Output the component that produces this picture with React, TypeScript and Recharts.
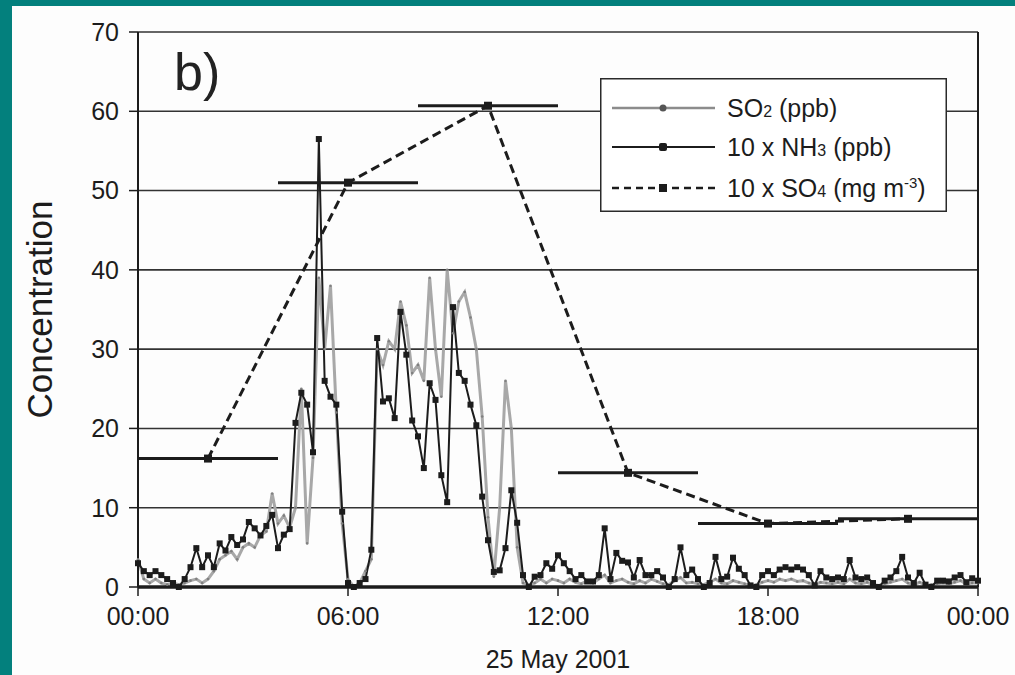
import React from "react";
import {
  ComposedChart,
  Line,
  Scatter,
  ErrorBar,
  XAxis,
  YAxis,
  CartesianGrid,
  ReferenceLine,
  Legend,
} from "recharts";

const FONT = 'Arial, "Liberation Sans", Helvetica, sans-serif';
const INK = "#1c1c1c";

// 10-minute readings, one row per hour (00:00 .. 24:00)
const SO2_PPB = [
  3.5, 1, 0.5, 1, 0.5, 0.3,
  0.5, 0.3, 0.5, 0.8, 1, 0.5,
  1, 2, 3.5, 4, 4.5, 3.5,
  5, 5.5, 5, 6.5, 7, 11.8,
  8, 9, 7.5, 10, 25, 5.5,
  16.3, 39, 30, 38, 22, 8,
  1, 0, 0.5, 2, 3.5, 30,
  28, 31, 30, 36, 33, 27,
  28, 26, 39, 30, 24, 40,
  32, 36, 37.2, 34, 30, 21.5,
  8.8, 1.3, 10, 26, 20, 5,
  0.5, 0.3, 0.5, 1, 0.5, 1,
  0.8, 0.5, 1, 0.6, 0.4, 0.8,
  0.5, 1, 1.5, 0.5, 0.8, 1,
  0.6, 0.4, 0.8, 0.5, 1, 0.7,
  0.4, 0.3, 0.8, 1.2, 0.5, 0.6,
  0.4, 0.3, 0.6, 1, 0.5, 0.4,
  0.8, 0.6, 0.4, 0.2, 0.3, 0.6,
  0.8, 0.6, 1, 0.8, 1, 0.7,
  0.8, 0.5, 0.3, 0.6, 0.5, 0.4,
  0.6, 0.4, 1, 0.5, 0.4, 0.6,
  0.3, 0.2, 0.4, 0.6, 0.8, 1,
  0.5, 0.3, 0.6, 0.2, 0.3, 0.4,
  0.5, 0.4, 0.6, 0.8, 0.4, 0.5,
  0.5,
];

const NH3_X10 = [
  3, 2, 1.5, 2, 1.5, 1,
  0.5, 0, 1, 2.5, 4.9, 2.5,
  4, 2.5, 5.5, 4.6, 6.3, 5.3,
  6, 8.2, 7.4, 6.5, 7.7, 9.1,
  4.9, 6.6, 7.3, 20.7, 24.5, 23,
  17, 56.5, 26, 24, 23, 9.5,
  0.5, 0, 0.5, 1, 4.7, 31.4,
  23.4, 23.8, 21.3, 34.7, 29.3, 21,
  19, 15, 25.7, 23.6, 14.1, 10.7,
  35.3, 27, 26, 23, 20.4, 11.4,
  5.9, 1.9, 2.1, 4.9, 12.2, 8.1,
  1.5, 0, 1.3, 1.5, 3, 2.3,
  4, 3, 2, 1, 1.5, 0.7,
  0.7, 1.5, 7.4, 1, 4.3, 3.3,
  3.1, 1.2, 3.4, 1.5, 1.5, 2,
  1.2, 0, 1, 5, 1.5, 2.2,
  1, 0, 0.5, 3.8, 1, 1.3,
  3.7, 2.3, 1.5, 0.2, 0, 1.5,
  2, 1.5, 2.2, 2.5, 2.2, 2.5,
  2.2, 1.5, 0.2, 2, 1.2, 1,
  1.2, 1, 3.4, 1.2, 1, 1.2,
  0.5, 0, 0.8, 1.2, 2, 3.8,
  1.2, 0.5, 1.8, 0.3, 0, 0.8,
  0.8, 0.7, 1.2, 1.5, 0.6, 1.1,
  0.8,
];

// sulphate filter samples: centre time, value, half of the sampling window (h)
const SO4_HOURS = [2, 6, 10, 14, 18, 22];
const SO4_X10 = [16.2, 51, 60.7, 14.4, 8.0, 8.6];
const SO4_HALF_WINDOW = [2, 2, 2, 2, 2, 2];

const X_TICKS = [0, 6, 12, 18, 24];
const Y_TICKS = [0, 10, 20, 30, 40, 50, 60, 70];

const series = SO2_PPB.map((so2, i) => ({ t: i / 6, so2, nh3: NH3_X10[i] }));
const so4 = SO4_HOURS.map((t, i) => ({ t, v: SO4_X10[i], err: SO4_HALF_WINDOW[i] }));

const hourLabel = (h: number) => `${String(h % 24).padStart(2, "0")}:00`;

const NhDot = (p: any) =>
  p.cx == null ? null : (
    <rect key={`n${p.index}`} x={p.cx - 3} y={p.cy - 3} width={6} height={6} fill={INK} />
  );

const SoDot = (p: any) =>
  p.cx == null ? null : <circle key={`s${p.index}`} cx={p.cx} cy={p.cy} r={1.3} fill="#808080" />;

const So4Mark = (p: any) => (
  <rect x={p.cx - 4} y={p.cy - 4} width={8} height={8} fill={INK} />
);

const YLabel = ({ viewBox }: any) => (
  <text
    x={viewBox.x + 27}
    y={viewBox.y + viewBox.height / 2}
    transform={`rotate(-90 ${viewBox.x + 27} ${viewBox.y + viewBox.height / 2})`}
    textAnchor="middle"
    dominantBaseline="central"
    fontSize={35}
    fontFamily={FONT}
    fill={INK}
  >
    Concentration
  </text>
);

const XLabel = ({ viewBox }: any) => (
  <text
    x={viewBox.x + viewBox.width / 2}
    y={viewBox.y + 72}
    textAnchor="middle"
    dominantBaseline="central"
    fontSize={25}
    fontFamily={FONT}
    fill={INK}
  >
    25 May 2001
  </text>
);

function LegendBox() {
  const rows = [30, 69, 110];
  const txt = { fontSize: 25, fontFamily: FONT, fill: INK };
  return (
    <svg width={347} height={134}>
      <rect x={0.75} y={0.75} width={345.5} height={132.5} fill="#fff" stroke="#2a2a2a" strokeWidth={1.5} />
      <line x1={12} x2={115} y1={rows[0]} y2={rows[0]} stroke="#8c8c8c" strokeWidth={2.5} />
      <circle cx={63} cy={rows[0]} r={3.5} fill="#555" />
      <line x1={12} x2={115} y1={rows[1]} y2={rows[1]} stroke={INK} strokeWidth={2} />
      <rect x={59} y={rows[1] - 4} width={8} height={8} rx={2} fill={INK} />
      <line x1={12} x2={115} y1={rows[2]} y2={rows[2]} stroke={INK} strokeWidth={2.5} strokeDasharray="7 5" />
      <rect x={59} y={rows[2] - 4} width={8} height={8} fill={INK} />
      <text x={127} y={rows[0]} dy="0.35em" {...txt}>
        SO<tspan fontSize={16}>2</tspan> (ppb)
      </text>
      <text x={127} y={rows[1]} dy="0.35em" {...txt}>
        10 x NH<tspan fontSize={16}>3</tspan> (ppb)
      </text>
      <text x={127} y={rows[2]} dy="0.35em" {...txt}>
        10 x SO<tspan fontSize={16}>4</tspan> (mg m
        <tspan fontSize={15} dy={-9}>-3</tspan>
        <tspan dy={9}>)</tspan>
      </text>
    </svg>
  );
}

export default function App() {
  return (
    <div style={{ position: "absolute", left: 0, top: 0, width: 1015, height: 675, background: "#03807d" }}>
      <div style={{ position: "absolute", left: 12, top: 6, width: 1003, height: 669, background: "#fdfdfd" }}>
        <ComposedChart
          width={1003}
          height={669}
          data={series}
          margin={{ top: 26, right: 37, bottom: 0, left: 0 }}
        >
          <CartesianGrid vertical={false} stroke="#333" strokeWidth={1.6} />
          <XAxis
            type="number"
            dataKey="t"
            domain={[0, 24]}
            ticks={X_TICKS}
            tickFormatter={hourLabel}
            height={88}
            stroke={INK}
            axisLine={{ stroke: INK, strokeWidth: 3.5 }}
            tickLine={{ stroke: INK, strokeWidth: 1.5 }}
            tickSize={9}
            tickMargin={11}
            tick={{ fill: INK, fontSize: 25, fontFamily: FONT }}
            label={<XLabel />}
          />
          <YAxis
            type="number"
            domain={[0, 70]}
            ticks={Y_TICKS}
            width={126}
            axisLine={{ stroke: INK, strokeWidth: 2 }}
            tickLine={{ stroke: INK, strokeWidth: 1.5 }}
            tickSize={9}
            tickMargin={10}
            tick={{ fill: INK, fontSize: 25, fontFamily: FONT }}
            label={<YLabel />}
          />
          <ReferenceLine x={24} stroke={INK} strokeWidth={2} />
          <Line
            dataKey="so2"
            type="linear"
            stroke="#a8a8a8"
            strokeWidth={3}
            dot={SoDot}
            isAnimationActive={false}
          />
          <Line
            dataKey="nh3"
            type="linear"
            stroke={INK}
            strokeWidth={2}
            dot={NhDot}
            isAnimationActive={false}
          />
          <Line
            data={so4}
            dataKey="v"
            type="linear"
            stroke={INK}
            strokeWidth={3}
            strokeDasharray="9 5"
            dot={false}
            isAnimationActive={false}
          />
          <Scatter data={so4} dataKey="v" shape={So4Mark} isAnimationActive={false}>
            <ErrorBar dataKey="err" direction="x" width={0} stroke={INK} strokeWidth={3} />
          </Scatter>
          <Legend
            content={<LegendBox />}
            layout="horizontal"
            verticalAlign="middle"
            align="center"
            wrapperStyle={{ left: 588, top: 72, width: 347, height: 134 }}
          />
        </ComposedChart>
        <div
          style={{
            position: "absolute",
            left: 162,
            top: 40,
            fontSize: 52,
            lineHeight: 1,
            fontFamily: FONT,
            color: "#222",
          }}
        >
          b)
        </div>
      </div>
    </div>
  );
}
